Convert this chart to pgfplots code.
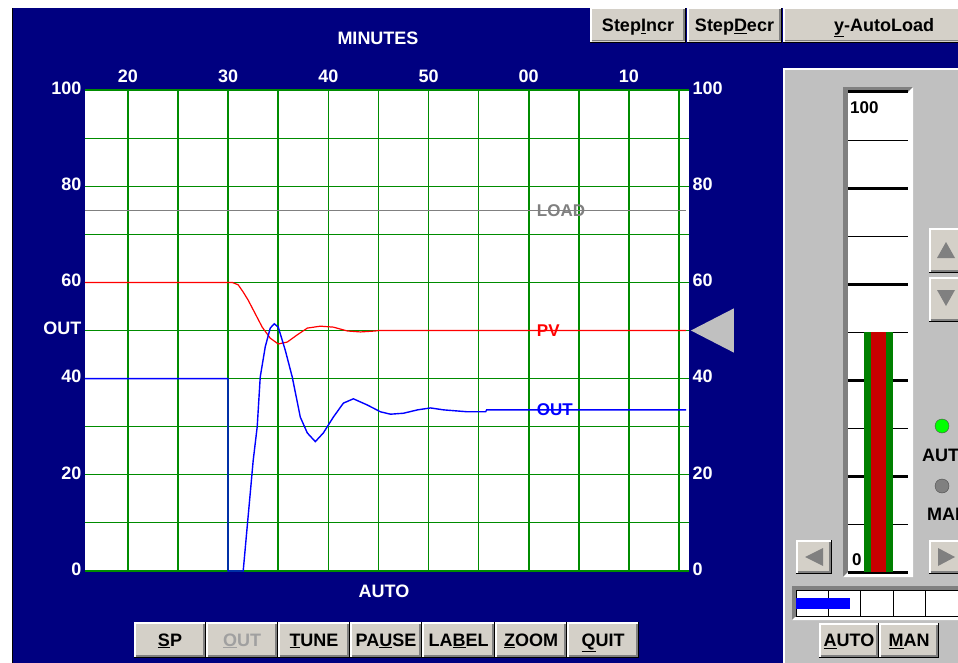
\documentclass[border=0pt]{standalone}
\usepackage{fontspec}
\setmainfont{Liberation Sans}
\usepackage{pgfplots}
\pgfplotsset{compat=1.18}

\definecolor{navy}{RGB}{0,0,128}
\definecolor{panel}{RGB}{192,192,192}
\definecolor{btnface}{RGB}{212,208,200}
\definecolor{gridgreen}{RGB}{0,140,0}
\definecolor{pvred}{RGB}{255,0,0}
\definecolor{outblue}{RGB}{0,0,255}
\definecolor{loadgray}{RGB}{128,128,128}
\definecolor{shadow}{RGB}{128,128,128}
\definecolor{dimtext}{RGB}{160,160,160}
\definecolor{barred}{RGB}{200,0,0}
\definecolor{bargreen}{RGB}{0,128,0}
\definecolor{ledgreen}{RGB}{0,255,0}

\newcommand\uif{\fontsize{18}{18}\selectfont\bfseries}
\newcommand\lblf{\fontsize{17}{17}\selectfont\bfseries}

% 3D button: left, top (pixels), width, height, caption
\newcommand\btn[5]{%
  \begin{scope}[shift={(#1,#2)}]
    \fill[btnface] (0,0) rectangle (#3,#4);
    \draw[white, line width=1.5pt] (0.75,#4-1) -- (0.75,0.75) -- (#3-1,0.75);
    \draw[shadow, line width=1.5pt] (1.5,#4-2.25) -- (#3-2.25,#4-2.25) -- (#3-2.25,1.5);
    \draw[black, line width=1pt] (0,#4-0.5) -- (#3-0.5,#4-0.5) -- (#3-0.5,0);
    \node[font=\uif, text height=13pt, text depth=0pt] at (#3/2,#4/2-0.5) {#5};
  \end{scope}}

\begin{document}
\begin{tikzpicture}
\useasboundingbox (0pt,0pt) rectangle (958pt,-663pt);
\clip (0pt,0pt) rectangle (958pt,-663pt);

\begin{scope}[x=1pt,y=-1pt]
  \fill[white] (0,0) rectangle (958,663);
  \fill[navy] (12,8) rectangle (958,663);
  \draw[black] (12.5,8) -- (12.5,663);
  % right panel
  \fill[panel] (783,68) rectangle (958,663);
  \draw[white, line width=2pt] (784,663) -- (784,69) -- (958,69);
  % top buttons
  \btn{590}{8}{96}{35}{Step\underline{I}ncr}
  \btn{687}{8}{95}{35}{Step\underline{D}ecr}
  \btn{783}{8}{202}{35}{\underline{y}-AutoLoad}
  \node[font=\uif, text=white] at (378,38) {MINUTES};
  \node[font=\uif, text=white] at (384,591) {AUTO};
  % bottom buttons
  \btn{134}{622}{72}{36}{\underline{S}P}
  \btn{206}{622}{72}{36}{\textcolor{dimtext}{\underline{O}UT}}
  \btn{278}{622}{72}{36}{\underline{T}UNE}
  \btn{350}{622}{72}{36}{PA\underline{U}SE}
  \btn{422}{622}{73}{36}{LA\underline{B}EL}
  \btn{495}{622}{72}{36}{\underline{Z}OOM}
  \btn{567}{622}{72}{36}{\underline{Q}UIT}
  % gauge frame
  \fill[shadow] (843,87) rectangle (913,577);
  \fill[white] (913,87) -- (913,577) -- (843,577) -- (848,572) -- (908,572) -- (908,92) -- cycle;
  % output bar frame
  \fill[shadow] (792,586) rectangle (958,620);
  \fill[white] (958,620) -- (792,620) -- (795,617) -- (958,617) -- cycle;
\end{scope}

% main trend chart
\begin{axis}[
  at={(85pt,-571pt)}, anchor=south west,
  scale only axis, width=604pt, height=481pt,
  xmin=15.71, xmax=76.0, ymin=0, ymax=100,
  axis background/.style={fill=white},
  axis line style={opacity=0},
  major tick length=0pt,
  xtick={20,25,...,75},
  xticklabels={20,,30,,40,,50,,00,,10,},
  xticklabel pos=upper,
  xticklabel style={yshift=4pt},
  ytick={0,10,...,100},
  yticklabels={0,,20,,40,OUT,60,,80,,100},
  yticklabel style={yshift=2pt},
  tick label style={font=\uif, text=white},
  grid=major,
  major x grid style={draw=gridgreen, line width=1.6pt},
  major y grid style={draw=gridgreen, line width=1.1pt},
]
\addplot[loadgray, line width=1.3pt] coordinates {(15.71,75) (75.7,75)};
\addplot[pvred, line width=1.2pt] coordinates {
  (15.71,60) (30.4,60) (31.0,59.5) (31.5,58.0) (32.0,56.3) (32.5,54.3)
  (33.0,52.3) (33.4,50.7) (34.2,48.4) (35.0,47.2) (35.9,47.6) (36.9,49.1)
  (37.9,50.5) (39.2,50.9) (40.5,50.7) (41.9,49.9) (43.2,49.7) (44.7,49.9)
  (45.0,50) (75.7,50)};
\addplot[outblue, line width=1.4pt] coordinates {
  (15.71,40) (29.98,40) (29.98,0) (31.5,0) (32.5,23) (32.9,30) (33.2,40.3)
  (33.7,46.6) (34.2,50.5) (34.6,51.4) (35.0,50.7) (35.7,45.9) (36.4,40.3)
  (37.2,32.0) (37.9,28.7) (38.7,26.9) (39.5,28.7) (40.5,32.0) (41.5,34.9)
  (42.5,35.8) (43.9,34.5) (45.2,33.1) (46.2,32.6) (47.5,32.8) (48.9,33.5)
  (50.2,33.9) (51.5,33.5) (53.9,33.1) (55.7,33.1) (55.8,33.5) (75.7,33.5)};
\node[anchor=west, font=\lblf, text=loadgray, inner sep=0pt] at (axis cs:60.8,75) {LOAD};
\node[anchor=west, font=\lblf, text=pvred, inner sep=0pt] at (axis cs:60.8,50) {PV};
\node[anchor=west, font=\lblf, text=outblue, inner sep=0pt] at (axis cs:60.8,33.5) {OUT};
\end{axis}

% right-hand scale and setpoint pointer
\begin{axis}[
  at={(85pt,-571pt)}, anchor=south west,
  scale only axis, width=604pt, height=481pt,
  xmin=15.71, xmax=76.0, ymin=0, ymax=100,
  axis line style={opacity=0}, major tick length=0pt,
  xtick=\empty, ytick={0,20,...,100}, yticklabels={0,20,40,60,80,100},
  yticklabel pos=right, yticklabel style={yshift=2pt},
  tick label style={font=\uif, text=white},
  clip=false,
]
\addplot[fill=panel, draw=none] coordinates {(76.19,50) (80.48,54.6) (80.48,45.4) (76.19,50)};
\end{axis}

% vertical PV gauge
\begin{axis}[
  at={(848pt,-572pt)}, anchor=south west,
  scale only axis, width=60pt, height=480pt,
  xmin=-1, xmax=1, ymin=0, ymax=100,
  axis background/.style={fill=white},
  axis line style={draw=none},
  xtick=\empty, ytick={10,30,...,90}, yticklabels={}, major tick length=0pt,
  ymajorgrids, grid style={black, line width=0.9pt},
  extra y ticks={0,20,...,100}, extra y tick labels={},
  extra y tick style={grid style={black, line width=3pt}},
]
\addplot[ybar, bar width=29pt, bar shift=0pt, fill=bargreen, draw=none] coordinates {(0,50)};
\addplot[ybar, bar width=15pt, bar shift=0pt, fill=barred, draw=none] coordinates {(0,50)};
\end{axis}

% horizontal OUT bar
\begin{axis}[
  at={(796pt,-616pt)}, anchor=south west,
  scale only axis, width=162pt, height=26pt,
  xmin=0, xmax=100, ymin=-1, ymax=1,
  axis background/.style={fill=white},
  axis line style={black, line width=0.8pt},
  xtick={20,40,60,80}, xticklabels={}, ytick=\empty, major tick length=0pt,
  xmajorgrids, grid style={black, line width=0.8pt},
]
\addplot[xbar, bar width=11pt, bar shift=0pt, fill=outblue, draw=none] coordinates {(33.3,0)};
\end{axis}

\begin{scope}[x=1pt,y=-1pt]
  \node[font=\lblf, anchor=west, inner sep=0pt] at (850,108) {100};
  \node[font=\lblf, anchor=west, inner sep=0pt] at (852,560) {0};
  % arrow buttons
  \btn{929}{228}{35}{45}{}
  \btn{929}{277}{35}{45}{}
  \btn{796}{540}{36}{34}{}
  \btn{929}{540}{35}{34}{}
  \fill[shadow] (946,242) -- (937,258) -- (955,258) -- cycle;
  \fill[shadow] (946,306) -- (937,290) -- (955,290) -- cycle;
  \fill[shadow] (805,557) -- (823,548) -- (823,566) -- cycle;
  \fill[shadow] (955,557) -- (938,548) -- (938,566) -- cycle;
  % mode lamps
  \filldraw[fill=ledgreen, draw=black!70] (942,426) circle (7);
  \filldraw[fill=shadow, draw=black!70] (942,486) circle (7);
  \node[font=\uif] at (947.5,455) {AUTO};
  \node[font=\uif] at (947.5,514) {MAN};
  \btn{819}{623}{60}{35}{\underline{A}UTO}
  \btn{879}{623}{60}{35}{\underline{M}AN}
\end{scope}
\end{tikzpicture}
\end{document}
